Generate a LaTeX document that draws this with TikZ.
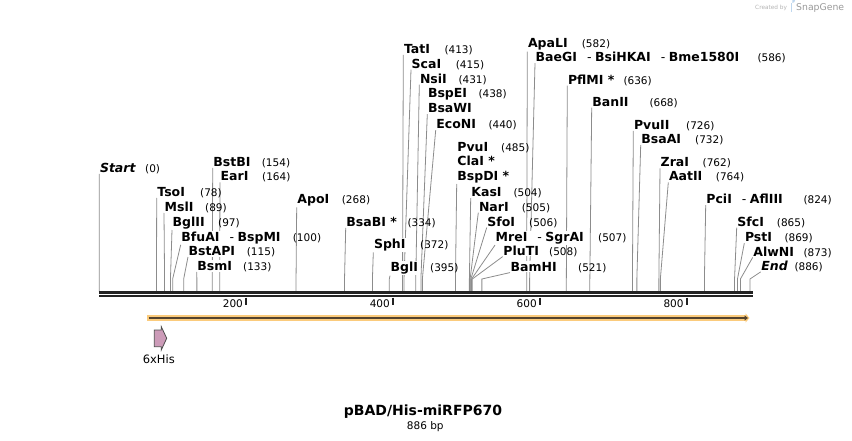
\documentclass[tikz,border=0pt]{standalone}
\usepackage{fontspec}
\setmainfont{DejaVu Sans}
\usetikzlibrary{arrows.meta, positioning, backgrounds, calc}

\definecolor{cutgray}{HTML}{8C8C8C}
\definecolor{mapblack}{HTML}{222222}
\definecolor{orfband}{HTML}{FBCB7C}
\definecolor{orfline}{HTML}{54432F}
\definecolor{hisfill}{HTML}{CC9BB8}
\definecolor{markgray}{HTML}{B4B4B4}
\definecolor{markblue}{HTML}{BFD7EE}

% gap and dash between enzymes that cut at the same site
\newcommand{\cutsep}{\hspace{10pt}{\mdseries -}\hspace{3.5pt}}

\tikzset{
  enz/.style={anchor=base west, inner xsep=0.5pt, inner ysep=1pt, fill=white,
    font=\fontsize{12.5}{14}\selectfont\bfseries},
  bpnum/.style={anchor=base west, inner sep=0pt, font=\fontsize{10.5}{12}\selectfont},
  cutline/.style={draw=cutgray, line width=0.8pt},
  ticklabel/.style={anchor=base east, inner sep=0pt, font=\fontsize{10.5}{12}\selectfont},
}

\begin{document}
\begin{tikzpicture}[x=1pt, y=-1pt]
\useasboundingbox (0,0) rectangle (852,441);

% enzyme names and cut positions
\foreach \id/\txt/\lx/\ly/\cutat/\nx in {
  start/\textit{Start}/99.3/172.5/(0)/145,
  tso/TsoI/156.7/196.5/(78)/200,
  msl/MslI/164/211.5/(89)/205,
  bgltwo/BglII/172/226/(97)/218,
  bfua/BfuAI\cutsep BspMI/180.7/241/(100)/292.7,
  bstap/BstAPI/188/255.5/(115)/246.7,
  bsm/BsmI/196.7/270.5/(133)/243,
  bstb/BstBI/212.7/166.5/(154)/261.7,
  ear/EarI/220/181/(164)/262,
  apo/ApoI/296.7/203.5/(268)/341.7,
  bsab/BsaBI */345.7/226.5/(334)/407.3,
  sph/SphI/373.3/248.5/(372)/420,
  bglone/BglI/390/271.8/(395)/430,
  tat/TatI/403.3/53.5/(413)/444.3,
  sca/ScaI/411/68.2/(415)/455.7,
  nsi/NsiI/419.3/83.2/(431)/458.3,
  bspe/BspEI/427.3/97.8/(438)/478.3,
  bsaw/BsaWI/427.3/112.8//0,
  econ/EcoNI/435.7/128.8/(440)/488.3,
  pvuone/PvuI/456.7/151.2/(485)/501,
  cla/ClaI */456.7/165.2//0,
  bspd/BspDI */456.7/180.2//0,
  kas/KasI/470.7/196.8/(504)/513.3,
  nar/NarI/478.3/211.2/(505)/521.7,
  sfo/SfoI/486.7/226.2/(506)/529,
  mre/MreI\cutsep SgrAI/495/241.2/(507)/598,
  plut/PluTI/502.7/255.2/(508)/549,
  bamh/BamHI/510/271.2/(521)/578,
  apal/ApaLI/527.3/47.8/(582)/581.7,
  baeg/BaeGI\cutsep BsiHKAI\cutsep Bme1580I/535/61.8/(586)/757.3,
  pflm/PflMI */567.3/84.5/(636)/623.3,
  bantwo/BanII/591.7/106.2/(668)/649.3,
  pvutwo/PvuII/633.3/129.5/(726)/686,
  bsaa/BsaAI/640.7/143.8/(732)/695,
  zra/ZraI/660/167/(762)/702.5,
  aat/AatII/668.3/181/(764)/715.7,
  pci/PciI\cutsep AflIII/705.7/203.8/(824)/803.3,
  sfc/SfcI/736.7/226.2/(865)/776.7,
  pst/PstI/744.3/241.8/(869)/784.3,
  alwn/AlwNI/752.7/256.2/(873)/803.3,
  endsite/\textit{End}/760.7/270.5/(886)/794.3}{
  \node[enz] (\id) at (\lx,\ly) {\txt};
  \node[bpnum] (\id-n) at (\nx,\ly) {\cutat};
}

% lines from the names down to the sites
\begin{scope}[on background layer]
\foreach \id/\bp in {start/0, tso/78, msl/89, bgltwo/97, bfua/100, bstap/115,
    bsm/133, bstb/154, ear/164, apo/268, bsab/334, sph/372, bglone/395,
    tat/413, sca/415, nsi/431, bsaw/438, econ/440, bspd/485, kas/504,
    nar/505, sfo/506, mre/507, plut/508, bamh/521, apal/582, baeg/586,
    pflm/636, bantwo/668, pvutwo/726, bsaa/732, zra/762, aat/764, pci/824,
    sfc/865, pst/869, alwn/873, endsite/886}{
  \coordinate (k-\id) at ({99.2+0.7345*\bp},279);
  \coordinate (s-\id) at ({99.2+0.7345*\bp},291.5);
  \draw[cutline] (\id.south west) -- (k-\id) -- (s-\id);
}
\end{scope}

% the map
\draw[mapblack, line width=2.4pt] (99,292.5) -- (752.7,292.5);
\draw[mapblack, line width=2pt] (99,296.3) -- (752.7,296.3);
\foreach \t in {200,400,600,800}{
  \draw[mapblack, line width=1.8pt] ({99.2+0.7345*\t},297.5) -- ++(0,7.5);
  \node[ticklabel] (t\t) at ({99.2+0.7345*\t-3},307.2) {\t};
}

% open reading frame
\draw[orfband, line width=5.7pt, -{Triangle[length=4pt, width=9pt]}] (147.3,318) -- (749.5,318);
\draw[orfline, line width=1.8pt, -{Triangle[length=3.5pt, width=5pt]}] (148.5,318) -- (748,318);

% 6xHis feature
\filldraw[fill=hisfill, draw=black!70, line width=0.8pt]
  (154.3,330) -- (161.3,330) -- (161.3,326.7) -- (166.7,338.3)
  -- (161.3,350) -- (161.3,346.7) -- (154.3,346.7) -- cycle;
\node[font=\fontsize{11.5}{13}\selectfont, inner sep=0pt] (his) at (158.8,359.3) {6xHis};

% name and length
\node[font=\fontsize{14}{16}\selectfont\bfseries, anchor=base, inner sep=0pt] (title) at (423,415.8) {pBAD/His-miRFP670};
\node[font=\fontsize{10.5}{12}\selectfont, anchor=base, inner sep=0pt] (len) at (425.3,429.8) {886 bp};

% watermark
\node[anchor=base west, inner sep=0pt, text=markgray, font=\fontsize{5.8}{7}\selectfont] (made) at (755,10) {Created by};
\fill[markblue] (790.5,3) rectangle (792.3,12.5);
\fill[markblue] (792.3,3) arc[start angle=90, end angle=-90, radius=2.8] -- cycle;
\node[anchor=base west, inner sep=0pt, text=markgray!85!black, font=\fontsize{9.3}{10}\selectfont] (snap) at (796,11) {SnapGene};
\end{tikzpicture}
\end{document}
